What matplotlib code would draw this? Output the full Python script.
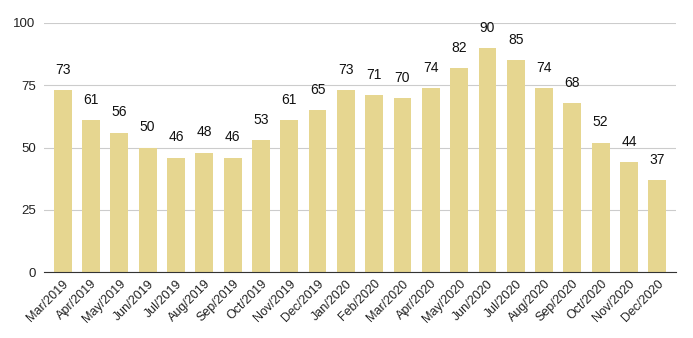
import matplotlib.pyplot as plt

months = ['Mar/2019', 'Apr/2019', 'May/2019', 'Jun/2019', 'Jul/2019', 'Aug/2019',
          'Sep/2019', 'Oct/2019', 'Nov/2019', 'Dec/2019', 'Jan/2020', 'Feb/2020',
          'Mar/2020', 'Apr/2020', 'May/2020', 'Jun/2020', 'Jul/2020', 'Aug/2020',
          'Sep/2020', 'Oct/2020', 'Nov/2020', 'Dec/2020']
values = [73, 61, 56, 50, 46, 48, 46, 53, 61, 65, 73, 71,
          70, 74, 82, 90, 85, 74, 68, 52, 44, 37]
yticks = [0, 25, 50, 75, 100]

plt.rcParams['font.family'] = ['Liberation Sans', 'DejaVu Sans']

fig = plt.figure(figsize=(6.93, 3.38), dpi=100)
ax = fig.add_axes([0.0635, 0.195, 0.912, 0.737])

x = range(len(months))
bars = ax.bar(x, values, width=0.63, color='#e6d690', zorder=2)
for xi, v in zip(x, values):
    ax.annotate(str(v), (xi, v), xytext=(0, 9.5), textcoords='offset points',
                ha='center', va='bottom', fontsize=10, color='#111111')

ax.set_xlim(-0.66, len(months) - 0.34)
ax.set_ylim(0, 100)
ax.set_yticks(yticks)
ax.set_yticklabels([str(t) for t in yticks], fontsize=9.5, color='#222222')
ax.set_xticks(list(x))
ax.set_xticklabels(months, rotation=45, ha='right', rotation_mode='anchor',
                   fontsize=9, color='#222222')
ax.tick_params(length=0, pad=6)
ax.tick_params(axis='x', pad=4)

ax.grid(axis='y', color='#cccccc', linewidth=0.8, zorder=0)
for s in ['top', 'right', 'left']:
    ax.spines[s].set_visible(False)
ax.spines['bottom'].set_color('#333333')
ax.spines['bottom'].set_zorder(3)

fig.savefig('out.png', dpi=100)
